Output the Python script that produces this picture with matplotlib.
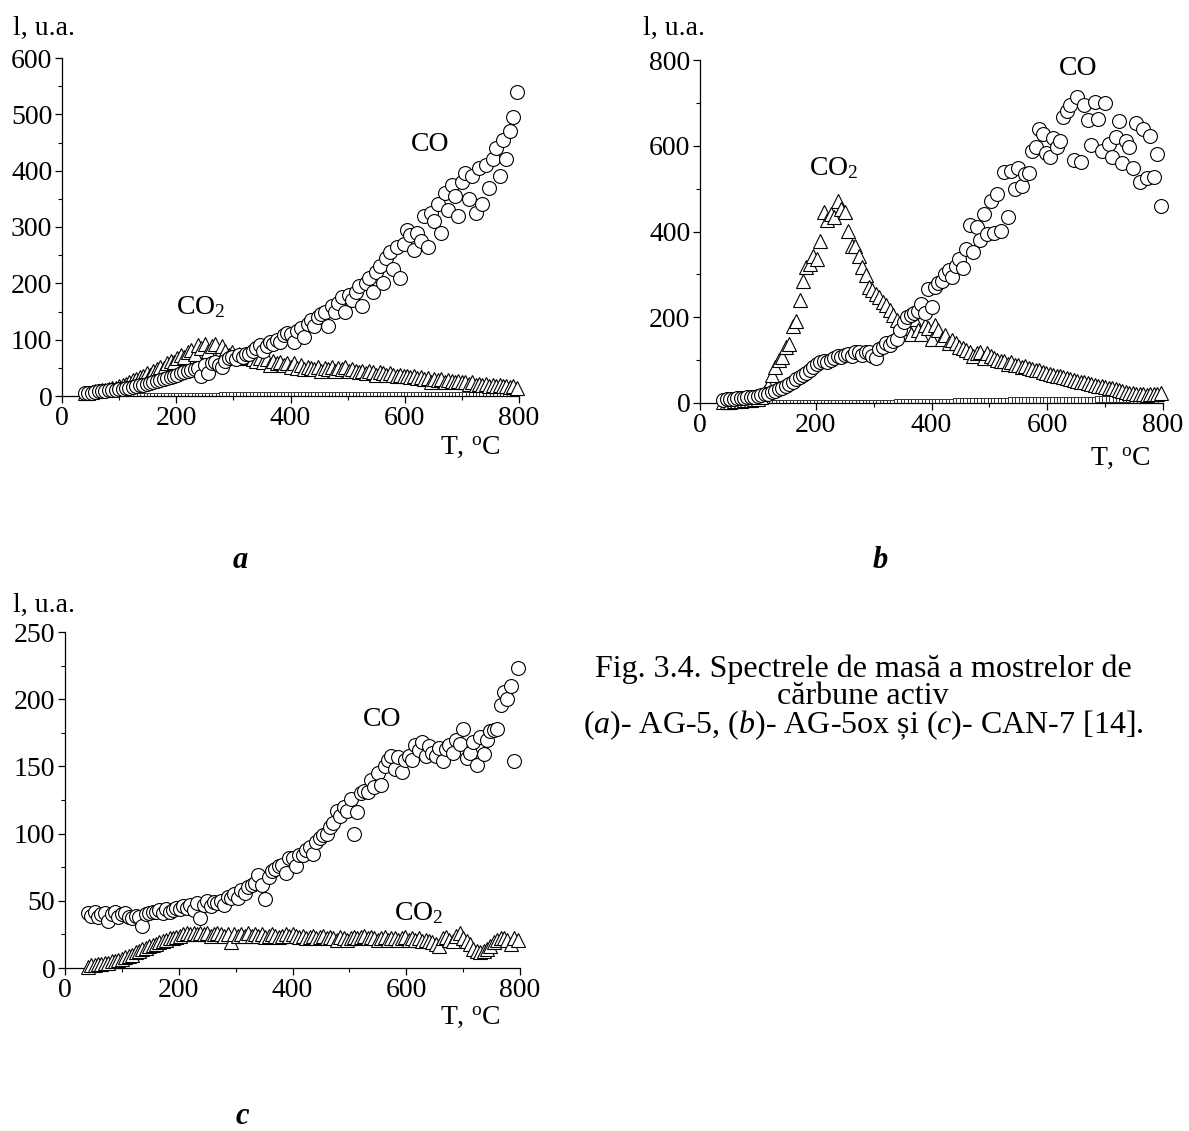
import numpy as np
import matplotlib.pyplot as plt
from matplotlib.ticker import MultipleLocator

plt.rcParams['font.family'] = ['Liberation Serif', 'DejaVu Serif']
plt.rcParams['mathtext.fontset'] = 'custom'
plt.rcParams['mathtext.rm'] = 'Liberation Serif'
plt.rcParams['mathtext.it'] = 'Liberation Serif:italic'

# temperature grid, deg C
T = np.arange(40, 800, 6)
T_base = np.arange(100, 800, 6)

# panel a: AG-5
co_a = [5, 6, 6, 7, 8, 8, 9, 10, 10, 11,
        12, 13, 14, 15, 16, 18, 19, 20, 22, 23,
        25, 27, 28, 30, 32, 34, 36, 38, 40, 42,
        44, 46, 48, 50, 35, 55, 40, 58, 60, 55,
        52, 62, 68, 70, 65, 72, 70, 75, 74, 80,
        85, 90, 80, 88, 95, 92, 100, 95, 108, 112,
        110, 95, 115, 120, 105, 128, 135, 125, 140, 145,
        150, 125, 160, 150, 165, 175, 150, 180, 170, 185,
        195, 160, 200, 210, 185, 220, 230, 200, 245, 255,
        225, 265, 210, 270, 295, 285, 260, 290, 275, 320,
        265, 325, 310, 340, 290, 360, 330, 375, 355, 320,
        380, 395, 350, 390, 325, 405, 340, 410, 370, 420,
        440, 390, 455, 420, 470, 495, 540]
co2_a = [5, 6, 7, 8, 9, 10, 11, 12, 14, 15,
         17, 20, 22, 25, 28, 30, 33, 36, 40, 38,
         45, 48, 52, 50, 58, 62, 60, 68, 72, 70,
         78, 82, 75, 90, 85, 92, 80, 88, 92, 75,
         88, 80, 72, 78, 70, 75, 72, 68, 70, 65,
         62, 68, 60, 65, 55, 62, 58, 60, 55, 58,
         52, 58, 50, 55, 48, 52, 50, 48, 52, 45,
         50, 48, 52, 45, 50, 48, 52, 45, 48, 44,
         42, 45, 40, 44, 42, 38, 42, 40, 38, 40,
         38, 36, 38, 35, 36, 34, 36, 32, 34, 30,
         32, 25, 30, 28, 30, 25, 28, 26, 24, 26,
         24, 25, 22, 24, 20, 22, 20, 21, 18, 20,
         18, 19, 17, 18, 16, 17, 15]
base_a = [0, 0, 0, 0, 0, 0, 0, 0, 0, 0,
          0, 0, 0, 0, 0, 0, 0, 0, 0, 0,
          0, 0, 0, 0, 0, 0, 0, 0, 0, 0,
          1, 1, 1, 1, 1, 1, 1, 1, 1, 1,
          1, 1, 1, 1, 1, 1, 1, 1, 1, 1,
          1, 1, 1, 1, 1, 1, 1, 1, 1, 1,
          1, 2, 2, 2, 2, 2, 2, 2, 2, 2,
          2, 2, 2, 2, 2, 2, 2, 2, 2, 2,
          2, 2, 2, 2, 2, 2, 2, 2, 2, 2,
          2, 2, 2, 2, 2, 2, 2, 2, 2, 2,
          2, 2, 2, 2, 2, 2, 2, 2, 2, 2,
          2, 2, 1, 1, 1, 1, 1]

# panel b: AG-5ox
co_b = [8, 9, 10, 10, 11, 12, 12, 13, 14, 15,
        16, 18, 20, 22, 25, 28, 32, 36, 40, 45,
        50, 55, 60, 65, 70, 78, 85, 92, 95, 98,
        95, 100, 105, 110, 108, 112, 115, 110, 118, 120,
        112, 118, 120, 110, 105, 125, 130, 140, 135, 145,
        150, 170, 190, 200, 205, 210, 215, 230, 210, 265,
        225, 270, 280, 285, 300, 310, 295, 320, 335, 315,
        360, 415, 352, 410, 381, 441, 395, 472, 396, 487,
        401, 538, 433, 542, 499, 549, 507, 534, 537, 588,
        596, 638, 627, 584, 573, 619, 596, 611, 668, 681,
        696, 566, 713, 561, 696, 659, 602, 702, 662, 588,
        700, 604, 573, 620, 658, 559, 611, 596, 549, 654,
        515, 638, 525, 623, 528, 580, 459]
co2_b = [2, 3, 3, 4, 5, 5, 6, 7, 8, 10,
         10, 15, 25, 40, 65, 85, 100, 108, 130, 138,
         180, 192, 240, 285, 317, 325, 344, 337, 379, 445,
         426, 441, 433, 470, 452, 445, 402, 367, 367, 344,
         317, 298, 271, 263, 255, 248, 236, 228, 217, 205,
         193, 180, 182, 174, 162, 197, 170, 160, 182, 174,
         150, 182, 170, 150, 159, 140, 147, 139, 130, 128,
         124, 120, 110, 116, 120, 105, 116, 110, 104, 100,
         98, 97, 92, 95, 89, 88, 85, 86, 81, 80,
         78, 76, 72, 70, 68, 66, 62, 64, 60, 58,
         56, 54, 52, 50, 48, 46, 44, 42, 40, 39,
         37, 35, 34, 32, 30, 28, 26, 24, 23, 22,
         21, 20, 19, 20, 21, 22, 23]
base_b = [0, 0, 0, 0, 0, 0, 0, 0, 0, 0,
          0, 0, 0, 0, 0, 0, 0, 0, 0, 0,
          0, 0, 0, 0, 0, 0, 0, 0, 0, 0,
          0, 1, 1, 1, 1, 1, 1, 1, 1, 1,
          2, 2, 2, 2, 2, 2, 2, 2, 2, 3,
          3, 3, 3, 3, 3, 3, 3, 4, 4, 4,
          4, 4, 4, 4, 4, 5, 5, 5, 5, 5,
          5, 5, 5, 6, 6, 6, 6, 6, 6, 6,
          6, 7, 7, 7, 7, 7, 7, 7, 7, 8,
          8, 8, 8, 8, 8, 8, 8, 8, 9, 9,
          9, 9, 9, 9, 9, 9, 9, 9, 8, 8,
          2, 2, 2, 2, 2, 2, 2]

# panel c: CAN-7
co_c = [41, 39, 42, 38, 40, 41, 35, 40, 42, 38,
        40, 41, 38, 37, 39, 38, 31, 40, 41, 42,
        42, 43, 41, 44, 42, 43, 45, 44, 46, 45,
        47, 43, 48, 37, 47, 50, 46, 49, 48, 50,
        47, 53, 52, 55, 52, 58, 56, 60, 62, 63,
        69, 62, 51, 68, 72, 74, 76, 77, 71, 82,
        82, 76, 84, 84, 88, 90, 85, 94, 97, 99,
        100, 105, 108, 117, 113, 120, 117, 126, 100, 116,
        130, 132, 131, 140, 135, 145, 136, 150, 155, 158,
        148, 157, 146, 155, 158, 155, 166, 162, 168, 158,
        165, 160, 158, 164, 154, 163, 166, 160, 170, 167,
        178, 156, 160, 168, 151, 172, 159, 170, 176, 177,
        178, 196, 205, 200, 210, 154, 223]
co2_c = [1, 2, 2, 3, 3, 4, 4, 5, 5, 6,
         7, 8, 9, 10, 12, 13, 14, 15, 16, 17,
         18, 19, 20, 21, 22, 22, 23, 24, 25, 26,
         25, 26, 25, 26, 25, 26, 24, 25, 26, 25,
         24, 25, 19, 25, 24, 25, 24, 26, 24, 25,
         24, 25, 23, 24, 25, 24, 23, 24, 25, 24,
         25, 24, 23, 24, 22, 23, 24, 22, 23, 24,
         22, 23, 22, 21, 23, 22, 21, 22, 23, 22,
         23, 24, 22, 23, 22, 21, 22, 23, 21, 22,
         22, 21, 22, 23, 21, 22, 21, 22, 20, 21,
         20, 19, 18, 16, 22, 23, 21, 20, 24, 26,
         22, 20, 18, 14, 13, 12, 13, 14, 16, 19,
         21, 22, 22, 21, 18, 22, 21]

W, H = 1189, 1131
FS = 20
fig = plt.figure(figsize=(W / 100, H / 100), dpi=100)


def px_axes(left, right, top, bottom):
    return fig.add_axes([left / W, 1 - bottom / H, (right - left) / W, (bottom - top) / H])


def style(ax, ymax, ymaj):
    ax.set_xlim(0, 800)
    ax.set_ylim(0, ymax)
    ax.xaxis.set_major_locator(MultipleLocator(200))
    ax.xaxis.set_minor_locator(MultipleLocator(100))
    ax.yaxis.set_major_locator(MultipleLocator(ymaj))
    ax.yaxis.set_minor_locator(MultipleLocator(ymaj / 2))
    for s in ['top', 'right']:
        ax.spines[s].set_visible(False)
    for s in ['left', 'bottom']:
        ax.spines[s].set_linewidth(0.9)
    ax.tick_params(which='major', direction='out', length=5, width=0.9, labelsize=FS, pad=2)
    ax.tick_params(which='minor', direction='out', length=3, width=0.8)


mk = dict(linestyle='none', mfc='white', mec='black', mew=0.8, clip_on=False)


def draw(ax, co, co2, base=None):
    if base is not None:
        ax.plot(T_base, base, marker='s', markersize=4, linestyle='none', mfc='white',
                mec='#333333', mew=0.7, zorder=2)
    ax.plot(T, co2, marker='^', markersize=10.5, zorder=3, **mk)
    ax.plot(T, co, marker='o', markersize=10, zorder=4, **mk)


# a
ax_a = px_axes(62, 519, 58, 396)
style(ax_a, 600, 100)
draw(ax_a, co_a, co2_a, base_a)
ax_a.text(610, 446, 'CO', fontsize=FS, va='center')
ax_a.text(200, 158, 'CO$_2$', fontsize=FS, va='center')

# b
ax_b = px_axes(700, 1163, 60, 403)
style(ax_b, 800, 200)
draw(ax_b, co_b, co2_b, base_b)
ax_b.text(620, 781, 'CO', fontsize=FS, va='center')
ax_b.text(188, 547, 'CO$_2$', fontsize=FS, va='center')

# c
ax_c = px_axes(65, 520, 632, 968)
style(ax_c, 250, 50)
draw(ax_c, co_c, co2_c)
ax_c.text(524, 185, 'CO', fontsize=FS, va='center')
ax_c.text(578, 41, 'CO$_2$', fontsize=FS, va='center')


def ftext(x, y, s, **kw):
    fig.text(x / W, 1 - y / H, s, **kw)


for x, y in [(13, 28), (643, 28), (13, 605)]:
    ftext(x, y, 'l, u.a.', fontsize=FS, va='center', ha='left')
for x, y in [(500, 447), (1150, 458), (500, 1017)]:
    ftext(x, y, 'T, $^{\\mathrm{o}}$C', fontsize=FS, va='center', ha='right')

for x, y, s in [(240, 560, 'a'), (880, 560, 'b'), (242, 1116, 'c')]:
    ftext(x, y, s, fontsize=22, fontweight='bold', fontstyle='italic', ha='center', va='center')

ftext(863, 698, 'Fig. 3.4. Spectrele de masă a mostrelor de\ncărbune activ\n'
      '($a$)- AG-5, ($b$)- AG-5ox și ($c$)- CAN-7 [14].',
      fontsize=23, ha='center', va='center', linespacing=0.9)

fig.savefig('out.png', dpi=100)
